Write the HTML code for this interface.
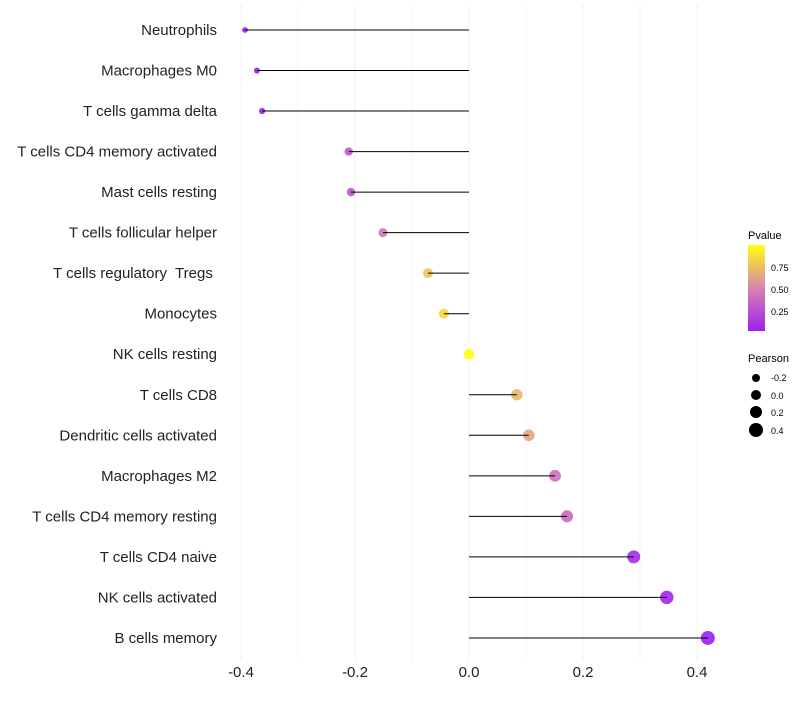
<!DOCTYPE html>
<html><head><meta charset="utf-8"><style>
body{margin:0;background:#fff;font-family:"Liberation Sans",sans-serif}
</style></head><body>
<svg id="chart" width="800" height="700" xmlns="http://www.w3.org/2000/svg" font-family="Liberation Sans, sans-serif">
<defs><linearGradient id="pg" x1="0" y1="1" x2="0" y2="0">
<stop offset="0" stop-color="#A020F0"/><stop offset="0.5" stop-color="#D884B0"/><stop offset="1" stop-color="#FFFF10"/></linearGradient></defs>
<g id="grid"></g><g id="marks"></g><g id="labels"></g>
<g>
<text x="748" y="239" font-size="11">Pvalue</text>
<rect x="748" y="245" width="17" height="86" fill="url(#pg)"/>
<text x="771" y="271" font-size="9">0.75</text>
<text x="771" y="293" font-size="9">0.50</text>
<text x="771" y="315" font-size="9">0.25</text>
</g>
<g>
<text x="748" y="362" font-size="11">Pearson</text>
<circle cx="756" cy="378" r="4" fill="#000"/><text x="771" y="381" font-size="9">-0.2</text>
<circle cx="756" cy="395" r="5" fill="#000"/><text x="771" y="399" font-size="9">0.0</text>
<circle cx="756" cy="412" r="6" fill="#000"/><text x="771" y="416" font-size="9">0.2</text>
<circle cx="756" cy="430" r="7" fill="#000"/><text x="771" y="434" font-size="9">0.4</text>
</g>
</svg>
<script>
const categories=["Neutrophils","Macrophages M0","T cells gamma delta","T cells CD4 memory activated","Mast cells resting","T cells follicular helper","T cells regulatory  Tregs ","Monocytes","NK cells resting","T cells CD8","Dendritic cells activated","Macrophages M2","T cells CD4 memory resting","T cells CD4 naive","NK cells activated","B cells memory"];
const pearson=[-0.393,-0.372,-0.363,-0.211,-0.207,-0.151,-0.072,-0.044,0.0,0.084,0.105,0.151,0.172,0.289,0.347,0.419];
const pvalues=[0.01,0.01,0.02,0.3,0.28,0.45,0.75,0.85,1.0,0.72,0.64,0.42,0.38,0.08,0.04,0.01];
const xTicks=[-0.4,-0.2,0.0,0.2,0.4];
const xMinor=[-0.3,-0.1,0.1,0.3];
const NS="http://www.w3.org/2000/svg";
const xs=v=>469+v*570;
const ys=i=>30+i*40.53;
const rs=v=>Math.sqrt(Math.max(4,28+50*v));
function lerp(a,b,t){return a.map((c,k)=>Math.round(c+(b[k]-c)*t));}
function col(p){const s=[[160,32,240],[216,132,176],[255,255,16]];const t=Math.max(0,Math.min(1,p));
 const c=t<0.5?lerp(s[0],s[1],t*2):lerp(s[1],s[2],(t-0.5)*2);return`rgb(${c})`;}
function el(tag,attrs,parent){const e=document.createElementNS(NS,tag);for(const k in attrs)e.setAttribute(k,attrs[k]);parent.appendChild(e);return e;}
const grid=document.getElementById('grid'),marks=document.getElementById('marks'),labels=document.getElementById('labels');
xMinor.forEach(v=>{const l=el('line',{x1:xs(v),x2:xs(v),y1:5,y2:660,stroke:'#f5f5f5','stroke-width':1},grid);

});
xTicks.forEach(v=>{const l=el('line',{x1:xs(v),x2:xs(v),y1:5,y2:660,stroke:'#f2f2f2','stroke-width':1},grid);


const t=el('text',{x:xs(v),y:677,'font-size':15,'text-anchor':'middle',fill:'#222'},labels);t.textContent=v.toFixed(1);

});
categories.forEach((c,i)=>{const y=ys(i);
const d=el('circle',{cx:xs(pearson[i]),cy:y,r:rs(pearson[i]),fill:col(pvalues[i]),'fill-opacity':0.92},marks);


const l=el('line',{x1:xs(0),x2:xs(pearson[i]),y1:y,y2:y,stroke:'#000','stroke-width':1},marks);


const t=el('text',{x:217,y:y+5,'font-size':15,'text-anchor':'end',fill:'#222',style:'white-space:pre'},labels);t.textContent=c;

});
</script>
</body></html>
